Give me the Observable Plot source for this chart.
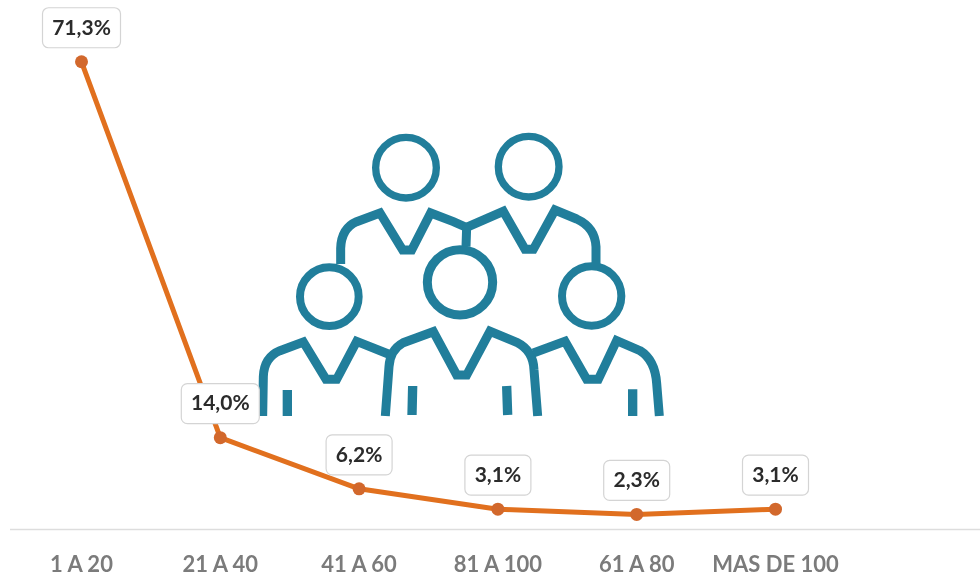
<!DOCTYPE html>
<html>
<head>
<meta charset="utf-8">
<script src="https://cdn.jsdelivr.net/npm/d3@7"></script>
<script src="https://cdn.jsdelivr.net/npm/@observablehq/plot@0.6"></script>
<style>
  html, body { margin: 0; padding: 0; background: #fff; }
  #wrap { position: relative; width: 980px; height: 582px; overflow: hidden; filter: blur(0.4px); }
  #icon { position: absolute; left: 240px; top: 120px; width: 440px; height: 310px; }
  #chart { position: absolute; left: 0; top: 0; }
  #chart svg { background: transparent; display: block; }
</style>
</head>
<body>
<div id="wrap">
  <svg id="icon" viewBox="0 0 1320 930" fill="none" stroke="#217e9b" stroke-width="27" stroke-linejoin="miter">
    <circle cx="498" cy="143" r="91" stroke-width="22"/>
    <circle cx="866" cy="140" r="91" stroke-width="22"/>
    <circle cx="268" cy="530" r="88" stroke-width="24"/>
    <circle cx="660" cy="487" r="98" stroke-width="27"/>
    <circle cx="1055" cy="528" r="89" stroke-width="24"/>
    <path d="M302 432 L302 385 Q304 325 350 305 L420 279 L488 390 L515 390 L572 279 L640 305 L690 327"/>
    <path d="M678 380 L680 322 L790 274 L855 388 L880 388 L945 270 L1010 297 Q1065 322 1068 380 L1068 432" />
    <path d="M68 888 L70 770 Q72 712 120 692 L190 666 L258 778 L290 778 L350 664 L445 702"/>
    <path d="M436 888 L447 740 Q450 690 490 668 L580 635 L650 765 L680 765 L750 634 L830 667 Q880 692 882 750 L893 888"/>
    <path d="M880 699 L975 664 L1040 778 L1075 778 L1130 662 L1200 692 Q1245 720 1250 790 L1258 888"/>
    <path d="M142 810 L142 888 M518 798 L516 885 M800 798 L803 885 M1178 808 L1178 888" stroke-width="28"/>
  </svg>
  <div id="chart"></div>
</div>
<script>
const categories = ["1 A 20", "21 A 40", "41 A 60", "81 A 100", "61 A 80", "MAS DE 100"];
const values = [71.3, 14.0, 6.2, 3.1, 2.3, 3.1];
const labels = ["71,3%", "14,0%", "6,2%", "3,1%", "2,3%", "3,1%"];

const rows = categories.map((c, i) => ({category: c, value: values[i], label: labels[i]}));

function boxSymbol(w, h, r) {
  return {
    draw(ctx) {
      const x0 = -w / 2, x1 = w / 2, y0 = -h / 2, y1 = h / 2;
      ctx.moveTo(x0 + r, y0);
      ctx.lineTo(x1 - r, y0);
      ctx.arcTo(x1, y0, x1, y0 + r, r);
      ctx.lineTo(x1, y1 - r);
      ctx.arcTo(x1, y1, x1 - r, y1, r);
      ctx.lineTo(x0 + r, y1);
      ctx.arcTo(x0, y1, x0, y1 - r, r);
      ctx.lineTo(x0, y0 + r);
      ctx.arcTo(x0, y0, x0 + r, y0, r);
      ctx.closePath();
    }
  };
}
const wideBox = boxSymbol(78, 40, 6);
const narrowBox = boxSymbol(66, 40, 6);

const font = "Lato, 'Open Sans', sans-serif";

const chart = Plot.plot({
  width: 980,
  height: 582,
  marginLeft: 81,
  marginRight: 205,
  marginTop: 4.2,
  marginBottom: 53,
  style: {background: "transparent", fontFamily: font},
  x: {type: "point", domain: categories, padding: 0, round: false, label: null},
  y: {domain: [0, 80], axis: null},
  marks: [
    Plot.ruleY([0], {stroke: "#dddddd", strokeWidth: 1.5, insetLeft: -71, insetRight: -205}),
    Plot.line(rows, {x: "category", y: "value", stroke: "#e1701e", strokeWidth: 5, curve: "linear"}),
    Plot.dot(rows, {x: "category", y: "value", r: 6.5, fill: "#d2682c", stroke: "none"}),
    Plot.dot(rows, {
      x: "category", y: "value", dy: -34,
      symbol: d => d.label.length > 4 ? wideBox : narrowBox,
      fill: "white", stroke: "#d4d4d4", strokeWidth: 1.2
    }),
    Plot.text(rows, {
      x: "category", y: "value", text: "label", dy: -34,
      fontSize: 21, fontWeight: 700, fill: "#2b2b2b", fontFamily: font
    }),
    Plot.axisX({
      tickSize: 0, tickPadding: 27, fontSize: 22, fontWeight: 700,
      fill: "#7b7b7b", label: null, fontFamily: font,
      style: {letterSpacing: "1.1px"}
    })
  ]
});
document.getElementById("chart").appendChild(chart);
</script>
</body>
</html>
